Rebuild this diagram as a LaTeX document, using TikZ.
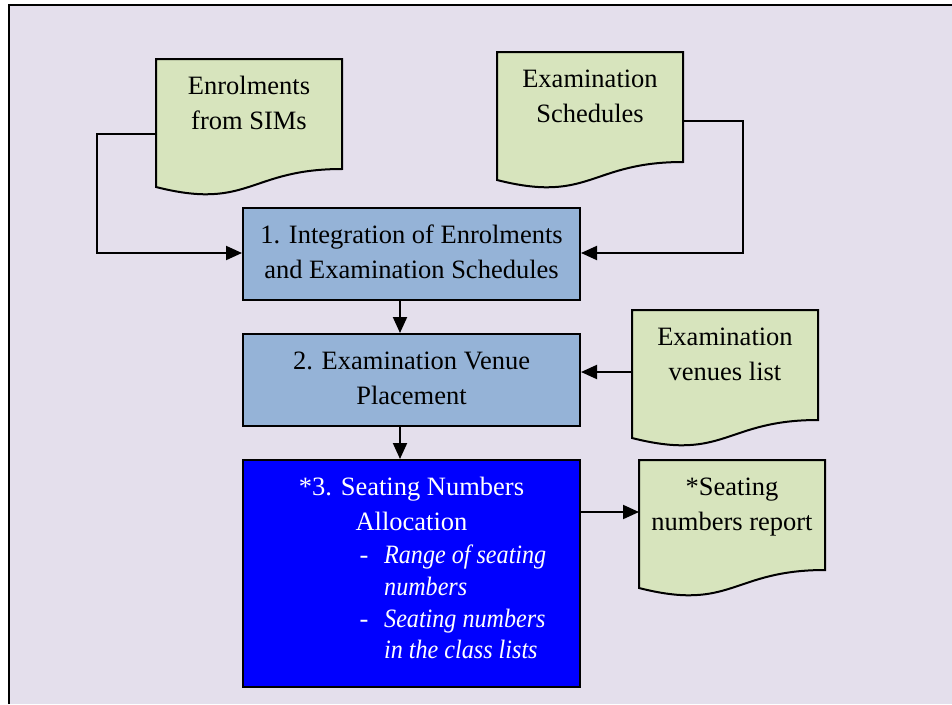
\documentclass[tikz,border=0pt]{standalone}
\usepackage{fontspec}
\setmainfont{Liberation Serif}
\usetikzlibrary{arrows.meta,calc}
\definecolor{bgcol}{HTML}{E4DFEC}
\definecolor{docfill}{HTML}{D7E4BD}
\definecolor{procfill}{HTML}{95B3D7}
\definecolor{hifill}{HTML}{0000FF}
\tikzset{
  txt/.style={font=\fontsize{26.5}{35}\selectfont, inner sep=0pt, align=center},
  docstyle/.style={draw=black, line width=2pt, fill=docfill, line join=miter},
  procbox/.style={draw=black, line width=2pt, fill=procfill, minimum width=337pt, txt},
  hibox/.style={draw=black, line width=2pt, fill=hifill, minimum width=337pt, minimum height=227pt},
  wtext/.style={txt, text=white},
  itext/.style={wtext, anchor=base west, font=\fontsize{26.5}{35}\selectfont\itshape\addfontfeature{FakeStretch=0.91}},
  conn/.style={draw=black, line width=2pt, -{Triangle[length=16pt,width=14pt]}},
}
\newcommand\docshape[4]{%
  \begin{scope}[shift={(#2,#3)}]
    \draw[docstyle] (0,0) -- (186,0) -- (186,110) .. controls (93,110) and (93,151.7) .. (0,128) -- cycle;
    \node[txt, anchor=north] (#1) at (93,10.5) {\strut #4};
  \end{scope}}
\begin{document}
\begin{tikzpicture}[x=1pt,y=-1pt]
  \useasboundingbox (0,0) rectangle (952,704);
  \fill[bgcol] (9,5) rectangle (952,704);
  \draw[line width=2.5pt] (9,704) -- (9,5) -- (952,5);

  % documents
  \docshape{d1}{156}{59}{Enrolments\\from SIMs}
  \docshape{d2}{497}{52}{Examination\\Schedules}
  \docshape{d3}{632}{310}{Examination\\venues list}
  \docshape{d4}{639}{460}{*Seating\\numbers report}

  % process boxes
  \node[procbox, minimum height=92pt] (b1) at (411.5,254) {\strut 1. Integration of Enrolments\\and Examination Schedules\strut};
  \node[procbox, minimum height=92pt] (b2) at (411.5,380) {\strut 2. Examination Venue\\Placement\strut};
  \node[hibox] (b3) at (411.5,573.5) {};

  \node[wtext, anchor=base] (t3a) at (411.5,495) {*3. Seating Numbers};
  \node[wtext, anchor=base] (t3b) at (411.5,530) {Allocation};
  \node[wtext, anchor=base] (dash1) at (364,563) {-};
  \node[itext] (l1a) at (384,563) {Range of seating};
  \node[itext] (l1b) at (384,595) {numbers};
  \node[wtext, anchor=base] (dash2) at (364,627) {-};
  \node[itext] (l2a) at (384,627) {Seating numbers};
  \node[itext] (l2b) at (384,658) {in the class lists};

  % connector end points on the documents
  \coordinate (d1w) at (157,134);
  \coordinate (d2e) at (682,121);
  \coordinate (d3w) at (633,372);
  \coordinate (d4w) at (639,512);
  \coordinate (k1) at (97,134);
  \coordinate (k2) at (743,121);

  % connectors
  \draw[conn] (d1w) -- (k1) |- ([yshift=1pt]b1.west);
  \draw[conn] (d2e) -- (k2) |- ([yshift=1pt]b1.east);
  \draw[conn] ([xshift=-11.5pt]b1.south) -- ([xshift=-11.5pt]b2.north);
  \draw[conn] (d3w) -- (d3w -| b2.east);
  \draw[conn] ([xshift=-11.5pt]b2.south) -- ([xshift=-11.5pt]b3.north);
  \draw[conn] (d4w -| b3.east) -- (d4w);
\end{tikzpicture}
\end{document}
